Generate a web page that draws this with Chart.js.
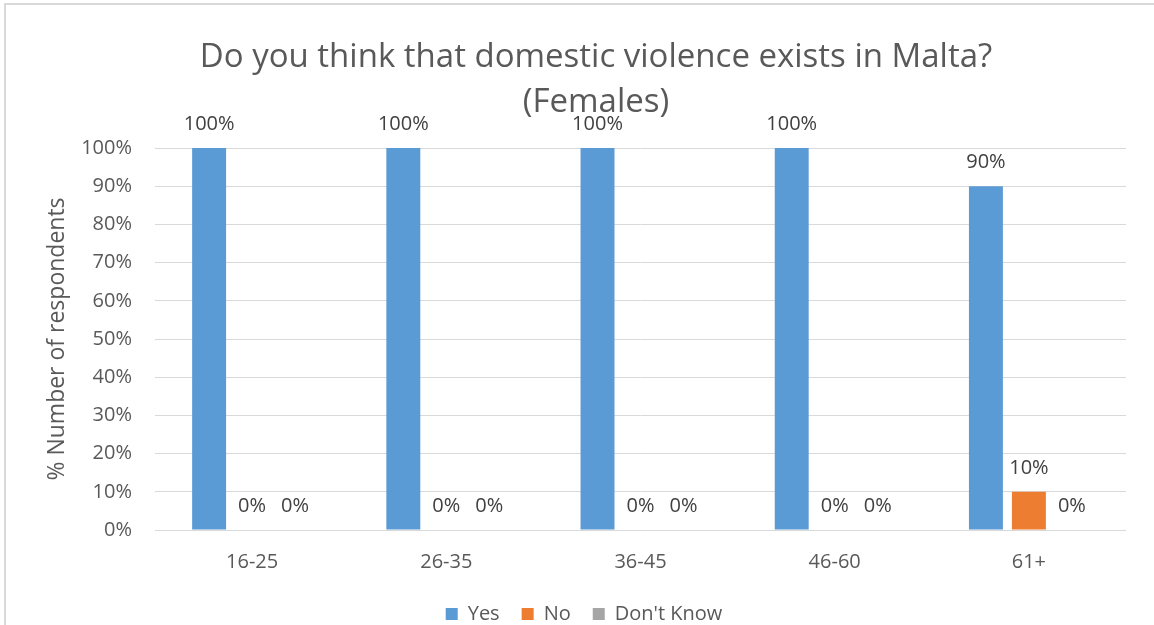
<!DOCTYPE html>
<html><head><meta charset="utf-8">
<script src="https://cdn.jsdelivr.net/npm/chart.js@4"></script>
<style>
html,body{margin:0;padding:0;background:#fff;overflow:hidden;width:1154px;height:625px;}
#frame{position:absolute;left:4px;top:3px;width:1300px;height:800px;border-top:2px solid #d9d9d9;border-left:2px solid #d9d9d9;}
#wrap{position:absolute;left:0;top:0;width:1154px;height:625px;}
</style></head><body>
<div id="frame"></div>
<div id="wrap"><canvas id="c" width="1154" height="625"></canvas></div>
<script>
const categories = ['16-25', '26-35', '36-45', '46-60', '61+'];
const seriesNames = ['Yes', 'No', "Don't Know"];
const yesValues = [100, 100, 100, 100, 90];
const noValues = [0, 0, 0, 0, 10];
const dontKnowValues = [0, 0, 0, 0, 0];
const titleLines = ['Do you think that domestic violence exists in Malta?', '(Females)'];
const yAxisTitle = '% Number of respondents';
const yMin = 0, yMax = 100, yStep = 10;

const FONT = 'Open Sans';
const TEXT = '#595959';

const dataLabelPlugin = {
  id: 'dataLabels',
  afterDatasetsDraw(chart) {
    const ctx = chart.ctx;
    ctx.save();
    ctx.font = '20px "' + FONT + '"';
    ctx.fillStyle = '#404040';
    ctx.textAlign = 'center';
    ctx.textBaseline = 'middle';
    chart.data.datasets.forEach((ds, i) => {
      const meta = chart.getDatasetMeta(i);
      meta.data.forEach((bar, j) => {
        ctx.fillText(ds.data[j] + '%', bar.x, bar.y - 24);
      });
    });
    ctx.restore();
  }
};

const legendShiftPlugin = {
  id: 'legendShift',
  afterLayout(chart) {
    if (chart.legend) { chart.legend.left -= 12; chart.legend.right -= 12; }
  }
};

new Chart(document.getElementById('c'), {
  type: 'bar',
  data: {
    labels: categories,
    datasets: [
      { label: seriesNames[0], data: yesValues, backgroundColor: '#5B9BD5' },
      { label: seriesNames[1], data: noValues, backgroundColor: '#ED7D31' },
      { label: seriesNames[2], data: dontKnowValues, backgroundColor: '#A5A5A5' }
    ]
  },
  options: {
    responsive: false,
    animation: false,
    devicePixelRatio: 1,
    datasets: { bar: { barPercentage: 0.79, categoryPercentage: 0.664 } },
    layout: { padding: { left: 66, right: 28, top: 0, bottom: -9 } },
    plugins: {
      tooltip: { enabled: false },
      title: {
        display: true,
        text: titleLines,
        color: TEXT,
        font: { family: FONT, size: 33, weight: 'normal', lineHeight: '45px' },
        padding: { top: 35, bottom: 23 }
      },
      legend: {
        position: 'bottom',
        labels: {
          boxWidth: 12, boxHeight: 12, padding: 22,
          color: TEXT,
          font: { family: FONT, size: 20 }
        }
      }
    },
    scales: {
      x: {
        grid: { display: false },
        border: { display: false },
        ticks: { color: TEXT, font: { family: FONT, size: 20 }, padding: 12 },
        afterFit(s) { s.height = 52; }
      },
      y: {
        min: yMin, max: yMax,
        ticks: { stepSize: yStep, callback: v => v + '%', padding: 23, color: TEXT, font: { family: FONT, size: 20 } },
        grid: { color: '#d9d9d9', lineWidth: 1, drawTicks: false },
        border: { display: false },
        title: { display: true, text: yAxisTitle, color: TEXT, font: { family: FONT, size: 23 }, padding: { top: -22, bottom: 0 } },
        afterFit(s) { s.width = 89; }
      }
    }
  },
  plugins: [dataLabelPlugin, legendShiftPlugin]
});
</script>
</body></html>
